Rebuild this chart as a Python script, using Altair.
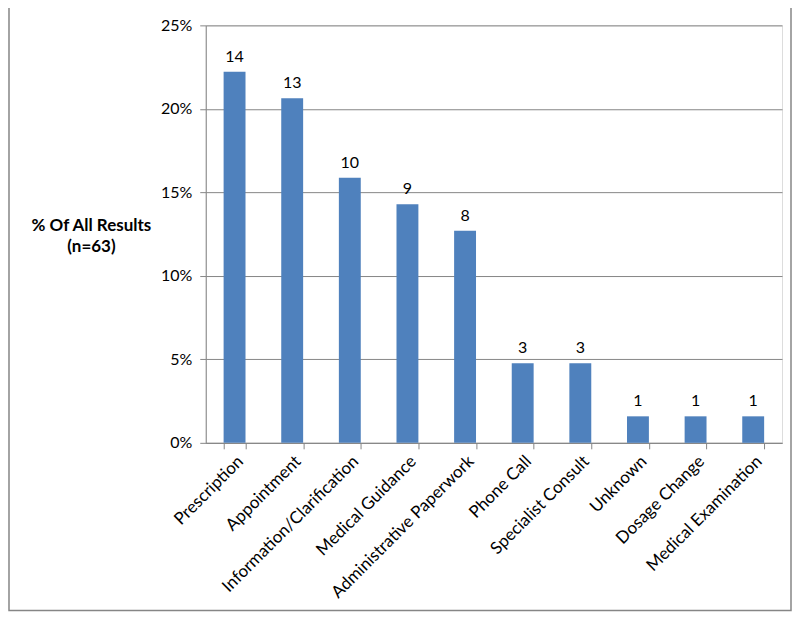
import altair as alt
import pandas as pd

categories = ["Prescription", "Appointment", "Information/Clarification", "Medical Guidance",
              "Administrative Paperwork", "Phone Call", "Specialist Consult", "Unknown",
              "Dosage Change", "Medical Examination"]
counts = [14, 13, 10, 9, 8, 3, 3, 1, 1, 1]
total_n = 63
y_ticks = [0, 0.05, 0.10, 0.15, 0.20, 0.25]

df = pd.DataFrame({"category": categories, "count": counts})
df["share"] = df["count"] / total_n

FONT = "Lato"
GRID = "#868686"
BAR = "#4F81BD"

W, H = 577, 418

base = alt.Chart(df).encode(
    x=alt.X("category:N", sort=categories,
            scale=alt.Scale(paddingInner=0.62, paddingOuter=0.31),
            axis=alt.Axis(title=None, labelAngle=-45, labelAlign="right", labelBaseline="top",
                          labelFontSize=17, labelFont=FONT, labelColor="#000000",
                          labelPadding=4, labelLimit=400, tickBand="extent", tickSize=6,
                          tickColor=GRID, domainColor=GRID)),
)

bars = base.mark_bar(color=BAR).encode(
    y=alt.Y("share:Q", scale=alt.Scale(domain=[0, 0.25], nice=False),
            axis=alt.Axis(values=y_ticks, format=".0%", title=["% Of All Results", "(n=63)"],
                          titleAngle=0, titleAlign="center", titleBaseline="alphabetic",
                          titleX=-115, titleY=205, titleFont=FONT, titleFontSize=17,
                          titleFontWeight="bold", titleLineHeight=21, titleColor="#000000",
                          labelFont=FONT, labelFontSize=16, labelColor="#000000",
                          labelPadding=8, tickSize=6, tickColor=GRID, domainColor=GRID,
                          gridColor=GRID, gridWidth=1)),
)

labels = base.mark_text(baseline="bottom", dy=-7, font=FONT, fontSize=16, color="#000000").encode(
    y=alt.Y("share:Q"),
    text=alt.Text("count:Q"),
)

frame = alt.Chart(pd.DataFrame({"a": [0]})).mark_rect(
    fill=None, stroke="#868686", strokeWidth=1.5
).encode(
    x=alt.value(-197), x2=alt.value(586), y=alt.value(-19), y2=alt.value(586)
)

chart = alt.layer(bars, labels, frame).properties(
    width=W, height=H,
    padding={"left": 198, "top": 17, "right": 10, "bottom": 172},
    autosize=alt.AutoSizeParams(type="none"),
).configure_view(stroke=None).configure(background="white")

chart.save("out.html", embed_options={"renderer": "svg", "actions": False})
